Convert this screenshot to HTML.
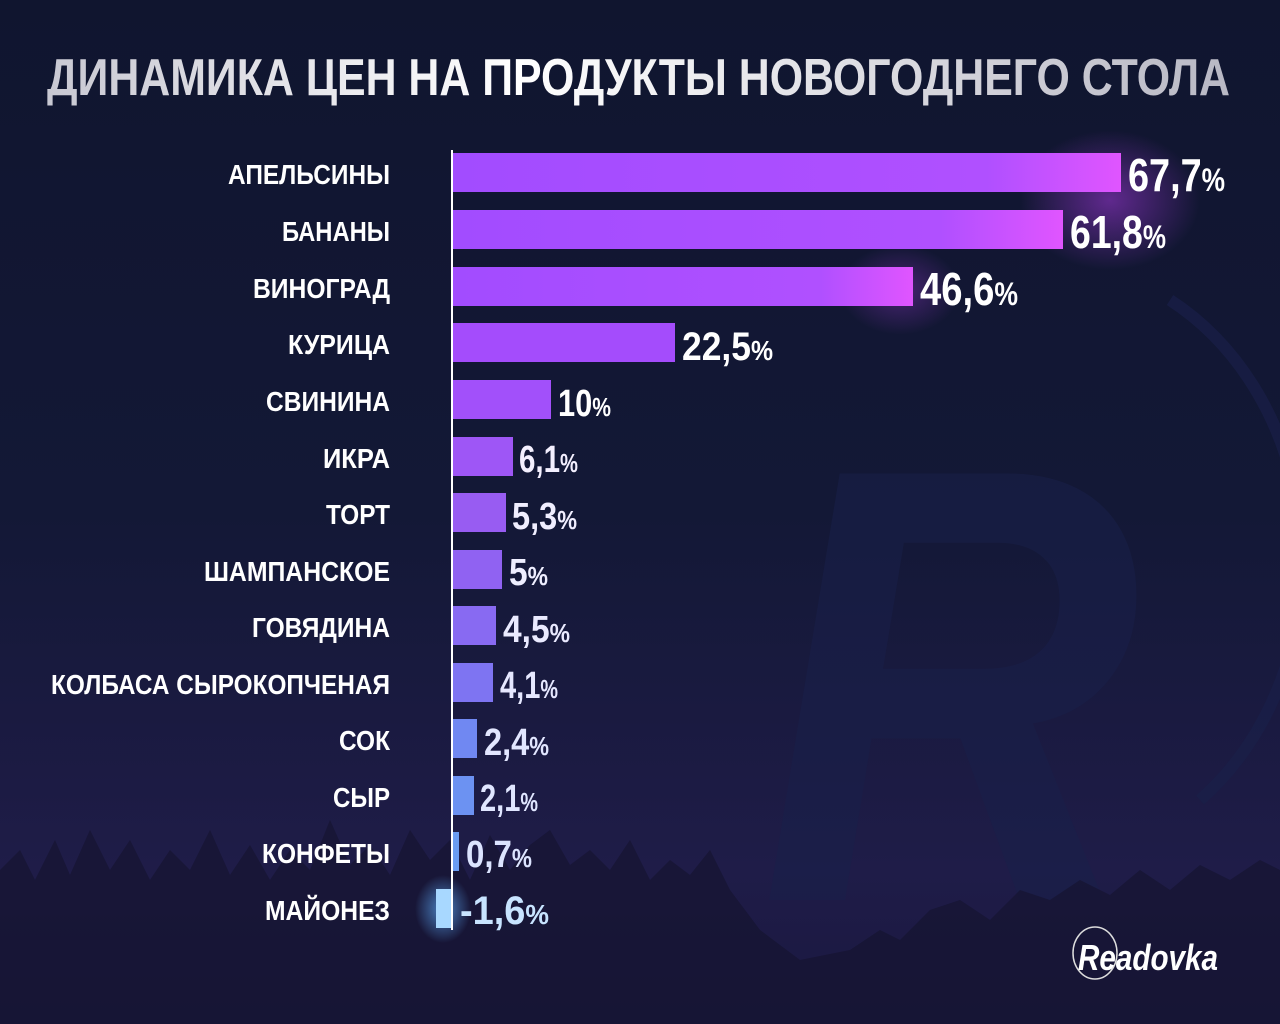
<!DOCTYPE html>
<html><head><meta charset="utf-8"><style>
html,body{margin:0;padding:0;background:#121634;}
svg{display:block}
text{font-family:"Liberation Sans","DejaVu Sans",sans-serif;font-weight:bold}
</style></head><body>
<svg width="1280" height="1024" viewBox="0 0 1280 1024" xmlns="http://www.w3.org/2000/svg">
<defs>
<linearGradient id="bg" x1="0" y1="0" x2="0" y2="1">
<stop offset="0" stop-color="#10152f"/><stop offset="0.5" stop-color="#131836"/><stop offset="0.85" stop-color="#1f1c48"/><stop offset="1" stop-color="#1a1840"/>
</linearGradient>
<linearGradient id="tt" x1="0" y1="0" x2="1" y2="0">
<stop offset="0" stop-color="#c8c8d2"/><stop offset="0.4" stop-color="#ffffff"/><stop offset="1" stop-color="#b8b8c4"/>
</linearGradient>
<linearGradient id="hot" x1="0" y1="0" x2="1" y2="0">
<stop offset="0" stop-color="#a24cff"/><stop offset="0.8" stop-color="#b050ff"/><stop offset="1" stop-color="#e055ff"/>
</linearGradient>
<radialGradient id="glow" cx="0.5" cy="0.5" r="0.5">
<stop offset="0" stop-color="#c040ff" stop-opacity="0.45"/><stop offset="1" stop-color="#c040ff" stop-opacity="0"/>
</radialGradient>
<radialGradient id="bglow" cx="0.5" cy="0.5" r="0.5">
<stop offset="0" stop-color="#60b0ff" stop-opacity="0.7"/><stop offset="1" stop-color="#60b0ff" stop-opacity="0"/>
</radialGradient>
</defs>
<rect width="1280" height="1024" fill="url(#bg)"/>
<!-- watermark -->
<text x="760" y="900" font-size="620" fill="#19204a" opacity="0.55" font-style="italic" textLength="380" lengthAdjust="spacingAndGlyphs">R</text>
<path d="M1170 300 A260 300 0 0 1 1200 800" stroke="#192048" stroke-width="12" fill="none" opacity="0.7"/>
<!-- forest -->
<path d="M0 1024 L0 870 L20 850 L35 880 L55 840 L70 875 L90 830 L110 870 L130 840 L150 880 L170 850 L190 870 L210 830 L230 875 L250 845 L270 880 L290 850 L310 870 L330 820 L350 865 L370 845 L390 875 L410 830 L430 860 L450 840 L470 880 L490 835 L510 870 L530 845 L550 830 L570 865 L590 850 L610 870 L630 840 L650 880 L670 860 L690 875 L710 850 L730 890 L760 930 L800 960 L850 950 L880 930 L900 940 L930 910 L960 900 L990 920 L1020 890 L1050 900 L1080 880 L1110 895 L1140 870 L1170 890 L1200 865 L1230 880 L1260 860 L1280 870 L1280 1024 Z" fill="#151431" opacity="0.7"/>
<!-- title -->
<text x="47" y="95" font-size="52" fill="url(#tt)" textLength="1183" lengthAdjust="spacingAndGlyphs">ДИНАМИКА ЦЕН НА ПРОДУКТЫ НОВОГОДНЕГО СТОЛА</text>
<!-- glows -->
<ellipse cx="1110" cy="200" rx="90" ry="70" fill="url(#glow)"/>
<ellipse cx="900" cy="290" rx="60" ry="45" fill="url(#glow)" opacity="0.7"/>
<ellipse cx="443" cy="909" rx="28" ry="34" fill="url(#bglow)"/>
<!-- bars -->
<g>
<rect x="452" y="153" width="669" height="39" fill="url(#hot)"/>
<rect x="452" y="210" width="611" height="39" fill="url(#hot)"/>
<rect x="452" y="267" width="461" height="39" fill="url(#hot)"/>
<rect x="452" y="323" width="223" height="39" fill="#a44cfc"/>
<rect x="452" y="380" width="99" height="39" fill="#a250fa"/>
<rect x="452" y="437" width="61" height="39" fill="#9e56f6"/>
<rect x="452" y="493" width="54" height="39" fill="#985cf2"/>
<rect x="452" y="550" width="50" height="39" fill="#9062f2"/>
<rect x="452" y="606" width="44" height="39" fill="#886af2"/>
<rect x="452" y="663" width="41" height="39" fill="#7e74f2"/>
<rect x="452" y="719" width="25" height="39" fill="#7088f2"/>
<rect x="452" y="776" width="22" height="39" fill="#6c92f2"/>
<rect x="452" y="832" width="7" height="39" fill="#6a9cf2"/>
<rect x="436" y="889" width="16" height="39" fill="#a8d8ff"/>
</g>
<line x1="452" y1="150" x2="452" y2="930" stroke="#ffffff" stroke-width="2"/>
<!-- labels -->
<g fill="#ffffff" font-size="28" text-anchor="end">
<text x="390" y="184" textLength="162" lengthAdjust="spacingAndGlyphs">АПЕЛЬСИНЫ</text>
<text x="390" y="241" textLength="108" lengthAdjust="spacingAndGlyphs">БАНАНЫ</text>
<text x="390" y="298" textLength="137" lengthAdjust="spacingAndGlyphs">ВИНОГРАД</text>
<text x="390" y="354" textLength="102" lengthAdjust="spacingAndGlyphs">КУРИЦА</text>
<text x="390" y="411" textLength="124" lengthAdjust="spacingAndGlyphs">СВИНИНА</text>
<text x="390" y="468" textLength="67" lengthAdjust="spacingAndGlyphs">ИКРА</text>
<text x="390" y="524" textLength="64" lengthAdjust="spacingAndGlyphs">ТОРТ</text>
<text x="390" y="581" textLength="186" lengthAdjust="spacingAndGlyphs">ШАМПАНСКОЕ</text>
<text x="390" y="637" textLength="138" lengthAdjust="spacingAndGlyphs">ГОВЯДИНА</text>
<text x="390" y="694" textLength="339" lengthAdjust="spacingAndGlyphs">КОЛБАСА СЫРОКОПЧЕНАЯ</text>
<text x="390" y="750" textLength="51" lengthAdjust="spacingAndGlyphs">СОК</text>
<text x="390" y="807" textLength="57" lengthAdjust="spacingAndGlyphs">СЫР</text>
<text x="390" y="863" textLength="128" lengthAdjust="spacingAndGlyphs">КОНФЕТЫ</text>
<text x="390" y="920" textLength="125" lengthAdjust="spacingAndGlyphs">МАЙОНЕЗ</text>
</g>
<!-- values -->
<g font-size="46">
<text x="1128" y="191" fill="#fff" textLength="97" lengthAdjust="spacingAndGlyphs">67,7<tspan font-size="32">%</tspan></text>
<text x="1070" y="248" fill="#fff" textLength="96" lengthAdjust="spacingAndGlyphs">61,8<tspan font-size="32">%</tspan></text>
<text x="920" y="305" fill="#fff" textLength="98" lengthAdjust="spacingAndGlyphs">46,6<tspan font-size="32">%</tspan></text>
<text x="682" y="360" fill="#fff" font-size="40" textLength="91" lengthAdjust="spacingAndGlyphs">22,5<tspan font-size="28">%</tspan></text>
<text x="558" y="416" fill="#fff" font-size="38" textLength="53" lengthAdjust="spacingAndGlyphs">10<tspan font-size="26">%</tspan></text>
<text x="519" y="472" fill="#f4f0ff" font-size="38" textLength="59" lengthAdjust="spacingAndGlyphs">6,1<tspan font-size="26">%</tspan></text>
<text x="512" y="529" fill="#f0eeff" font-size="38" textLength="65" lengthAdjust="spacingAndGlyphs">5,3<tspan font-size="26">%</tspan></text>
<text x="509" y="585" fill="#eeeeff" font-size="38" textLength="39" lengthAdjust="spacingAndGlyphs">5<tspan font-size="26">%</tspan></text>
<text x="503" y="642" fill="#eaeaff" font-size="38" textLength="67" lengthAdjust="spacingAndGlyphs">4,5<tspan font-size="26">%</tspan></text>
<text x="500" y="698" fill="#e6e8ff" font-size="38" textLength="58" lengthAdjust="spacingAndGlyphs">4,1<tspan font-size="26">%</tspan></text>
<text x="484" y="755" fill="#e2e6ff" font-size="38" textLength="65" lengthAdjust="spacingAndGlyphs">2,4<tspan font-size="26">%</tspan></text>
<text x="480" y="811" fill="#e0e6ff" font-size="38" textLength="58" lengthAdjust="spacingAndGlyphs">2,1<tspan font-size="26">%</tspan></text>
<text x="466" y="867" fill="#dce4ff" font-size="38" textLength="66" lengthAdjust="spacingAndGlyphs">0,7<tspan font-size="26">%</tspan></text>
<text x="460" y="924" fill="#c8e4ff" font-size="40" textLength="89" lengthAdjust="spacingAndGlyphs">-1,6<tspan font-size="28">%</tspan></text>
</g>
<!-- logo -->
<ellipse cx="1095" cy="953" rx="22" ry="26" stroke="#ddd" stroke-width="1.5" fill="none"/>
<text x="1078" y="970" fill="#fff" font-size="36" font-style="italic" textLength="140" lengthAdjust="spacingAndGlyphs">Readovka</text>
</svg>
</body></html>
